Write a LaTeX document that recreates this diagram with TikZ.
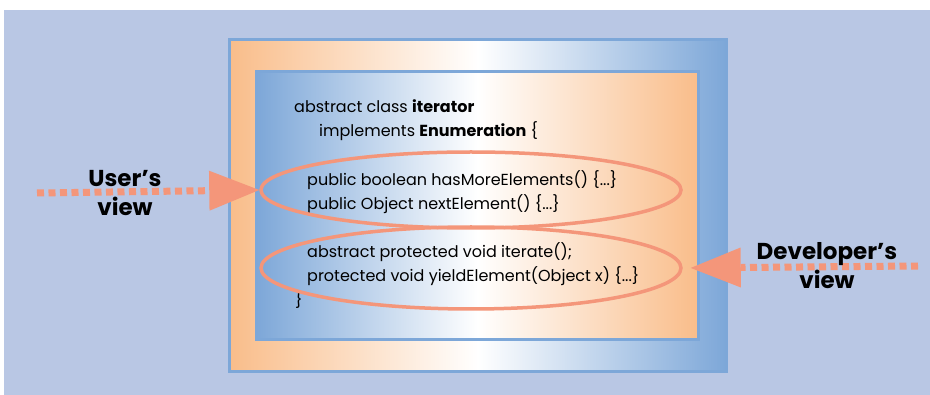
\documentclass[tikz,border=0pt]{standalone}
\usepackage{fontspec}
\setmainfont{Poppins}[Ligatures=ResetAll]
\usetikzlibrary{shapes.geometric,arrows.meta}
\definecolor{bgblue}{HTML}{B9C7E4}
\definecolor{boxblue}{HTML}{7DA7D8}
\definecolor{boxorange}{HTML}{F9BD8A}
\definecolor{salmon}{HTML}{F4967A}

\begin{document}
\begin{tikzpicture}[x=1pt,y=-1pt,
    outerbox/.style={rectangle,draw=boxblue,line width=3pt,inner sep=0pt,
        left color=boxorange,right color=boxblue,middle color=white},
    innerbox/.style={rectangle,draw=boxblue,line width=3pt,inner sep=0pt,
        left color=boxblue,right color=boxorange,middle color=white},
    code/.style={anchor=base west,inner sep=0pt,font=\fontsize{16}{19}\selectfont},
    viewell/.style={shape=ellipse,draw=salmon,line width=3.5pt,inner sep=0pt,minimum width=420pt},
    viewarrow/.style={draw=salmon,line width=7pt,dash pattern=on 7pt off 4.5pt,
        -{Triangle[length=50pt,width=40pt,line width=0pt]}},
    viewlabel/.style={align=center,inner sep=0pt,font=\bfseries\fontsize{23}{29}\selectfont}]
	\useasboundingbox (0,0) rectangle (930,395);
	\fill[bgblue] (4,10) rectangle (930,395);

	\node[outerbox,minimum width=497pt,minimum height=332pt] (outer) at (478, 205.5) {};
	\node[innerbox,minimum width=442pt,minimum height=268pt] (inner) at (477.5, 205.5) {};

	\node[code] (head)   at (294, 113) {abstract class \textbf{iterator}};
	\node[code] (impl)   at (319, 137) {implements \textbf{Enumeration} \{};
	\node[code] (pubmore) at (307, 186) {public boolean hasMoreElements() \{...\}};
	\node[code] (pubnext) at (307, 210) {public Object nextElement() \{...\}};
	\node[code] (absiter) at (307, 258) {abstract protected void iterate();};
	\node[code] (protyield) at (307, 282) {protected void yieldElement(Object x) \{...\}};
	\node[code] (close)  at (295, 306) {\}};

	\node[viewell,minimum height=76pt] (userell) at (471, 190) {};
	\node[viewell,minimum height=82pt] (devell)  at (471, 268) {};

	\coordinate (uend) at (37, 193);
	\coordinate (dend) at (918, 266);
    \path (uend) edge[viewarrow] (userell.west);
    \path (dend) edge[viewarrow,shorten >=8pt] (devell.east);

	\node[viewlabel] (user) at (125, 193) {User's\\view};
	\node[viewlabel] (dev)  at (827, 266) {Developer's\\view};
\end{tikzpicture}
\end{document}
